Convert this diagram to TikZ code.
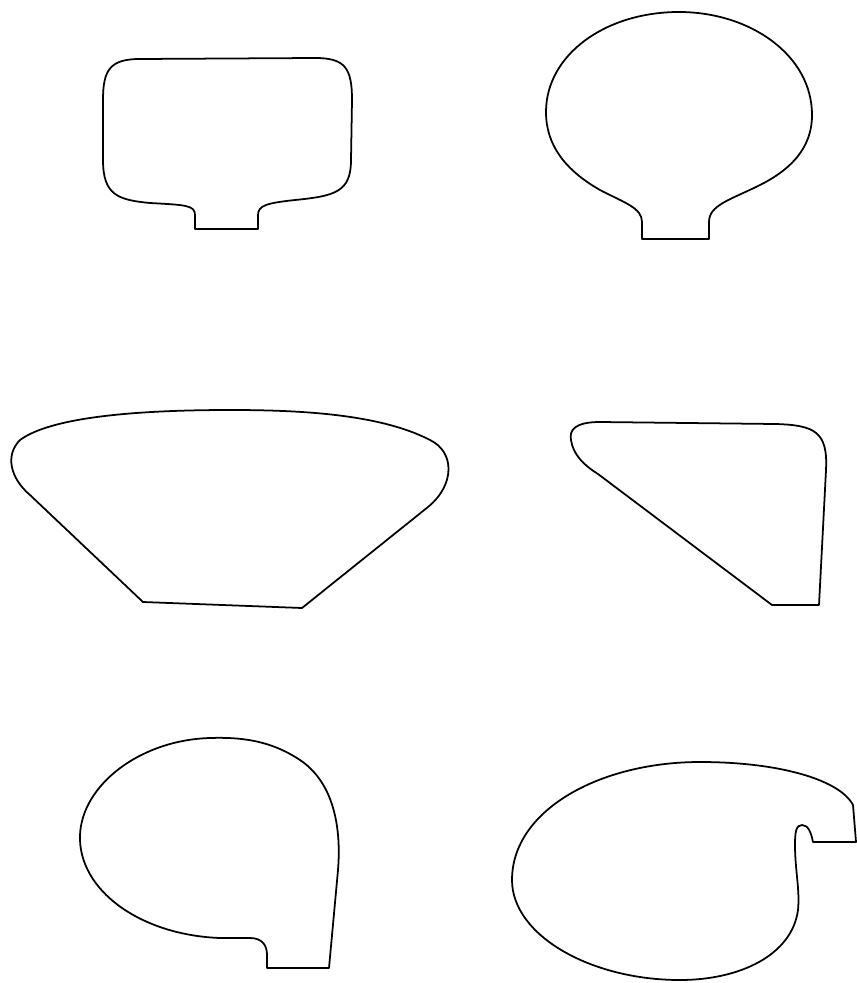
\documentclass[tikz,border=0pt]{standalone}
\usepackage{tikz}

\tikzset{
    outline/.style={line width=1pt, black, line join=round}
}

\begin{document}
\begin{tikzpicture}[x=0.02cm, y=-0.02cm]
    \useasboundingbox (0,0) rectangle (856,983);

    % --- TOP LEFT: rounded box with neck ---
    \draw[outline]
        (195,229) -- (258,229) -- (258,215) .. controls (258,205) and (268,203) ..
        (295,200) .. controls (335,196) and (351,192) .. (351,160) -- (352,100)
        .. controls (352,68) and (345,58) .. (315,58) -- (140,59)
        .. controls (110,59) and (103,70) .. (103,100) -- (103,160)
        .. controls (103,195) and (118,200) .. (150,203)
        .. controls (185,205) and (195,205) .. (195,215) -- cycle;

    % --- TOP RIGHT: bulb with neck ---
    \draw[outline]
        (642,239) -- (709,239) -- (709,222) .. controls (709,205) and (730,200) ..
        (760,185) .. controls (800,165) and (812,140) .. (812,115)
        .. controls (812,55) and (750,12) .. (679,12)
        .. controls (605,12) and (546,55) .. (546,112)
        .. controls (546,145) and (565,170) .. (600,190)
        .. controls (625,203) and (642,208) .. (642,222) -- cycle;

    % --- MIDDLE LEFT: bowl ---
    \draw[outline]
        (143,602) -- (302,608) -- (428,507) .. controls (455,485) and (455,452) ..
        (430,440) .. controls (380,414) and (300,410) .. (230,410)
        .. controls (130,410) and (50,418) .. (20,440)
        .. controls (5,455) and (10,478) .. (30,495) -- cycle;

    % --- MIDDLE RIGHT: wedge ---
    \draw[outline]
        (772,605) -- (819,605) -- (826,470) .. controls (828,432) and (815,425) ..
        (775,424) -- (600,422) .. controls (575,422) and (569,430) .. (571,440)
        .. controls (573,455) and (585,466) .. (598,474) -- cycle;

    % --- BOTTOM LEFT: drop with step ---
    \draw[outline]
        (267,968) -- (329,968) -- (338,870) .. controls (342,820) and (330,780) ..
        (300,760) .. controls (270,740) and (240,737) .. (210,738)
        .. controls (140,740) and (82,785) .. (80,835)
        .. controls (78,890) and (140,935) .. (220,938) -- (250,938)
        .. controls (262,938) and (267,945) .. (267,955) -- cycle;

    % --- BOTTOM RIGHT: ellipse with hook ---
    \draw[outline]
        (856,842) -- (813,842) .. controls (811,832) and (808,825) .. (802,825)
        .. controls (796,825) and (795,832) .. (795,845)
        .. controls (795,870) and (800,890) .. (798,910)
        .. controls (792,955) and (740,980) .. (680,980)
        .. controls (590,980) and (512,935) .. (512,880)
        .. controls (512,810) and (600,762) .. (700,762)
        .. controls (780,762) and (840,780) .. (853,805) -- cycle;
\end{tikzpicture}
\end{document}
